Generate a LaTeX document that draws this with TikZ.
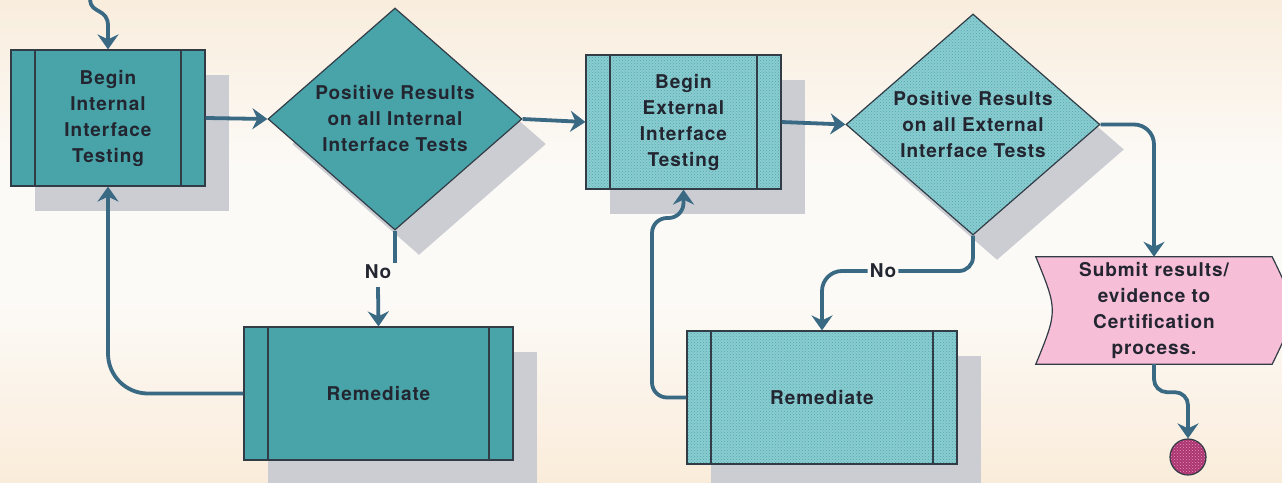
\documentclass[tikz,border=0pt]{standalone}
\usepackage{fontspec}
\setmainfont{TeX Gyre Heros}[LetterSpace=5]
\usetikzlibrary{shapes.geometric,shadows,patterns,arrows.meta}
\definecolor{bgtop}{RGB}{249,237,221}
\definecolor{bgmid}{RGB}{252,250,247}
\definecolor{bgbot}{RGB}{250,236,218}
\definecolor{teal}{RGB}{72,164,169}
\definecolor{tealL}{RGB}{138,205,209}
\definecolor{tealD}{RGB}{82,168,176}
\definecolor{edgec}{RGB}{50,60,70}
\definecolor{arrc}{RGB}{58,105,132}
\definecolor{shadc}{RGB}{203,205,211}
\definecolor{pinkc}{RGB}{247,190,216}
\definecolor{circc}{RGB}{172,52,112}
\definecolor{circdot}{RGB}{228,150,190}
\definecolor{txtc}{RGB}{35,38,48}
\pgfdeclarelayer{back}
\pgfdeclarelayer{bg}
\pgfsetlayers{back,bg,main}
\begin{document}
\begin{tikzpicture}[x=1pt,y=-1pt,
  lbl/.style={font={\fontsize{19}{26}\selectfont\bfseries}, text=txtc, align=center},
  shad/.style={drop shadow={shadow xshift=24pt, shadow yshift=-25pt, fill=shadc, opacity=1}},
  bars/.style={path picture={\draw[line width=1.2pt, draw=edgec]
      ([xshift=#1]path picture bounding box.north west) -- ([xshift=#1]path picture bounding box.south west)
      ([xshift=-#1]path picture bounding box.north east) -- ([xshift=-#1]path picture bounding box.south east);}},
  procbox/.style={rectangle, draw=edgec, line width=1.2pt, inner sep=0pt, shad, bars=24pt, lbl},
  darkfill/.style={fill=teal},
  lightfill/.style={preaction={fill=tealL}, pattern=crosshatch dots, pattern color=tealD},
  decide/.style={diamond, draw=edgec, line width=1.2pt, inner sep=0pt, shad},
  conn/.style={draw=arrc, line width=3.8pt, -{Stealth[length=15pt, width=21pt, inset=5pt]}},
  plain/.style={draw=arrc, line width=3.8pt},
  nolbl/.style={lbl, inner sep=2pt}
]
\begin{pgfonlayer}{back}
\shade[top color=bgtop, bottom color=bgmid] (0,0) rectangle (1282,170);
\fill[bgmid] (0,169) rectangle (1282,300);
\shade[top color=bgmid, bottom color=bgbot] (0,299) rectangle (1282,482);
\end{pgfonlayer}
\useasboundingbox (0,0) rectangle (1282,482);

% nodes
\node[procbox, darkfill, minimum width=194, minimum height=136] (b1) at (108,118)
  {Begin\\Internal\\Interface\\Testing};
\node[decide, fill=teal, minimum width=254, minimum height=222,
  label={[name=d1t, lbl]center:Positive Results\\on all Internal\\Interface Tests}] (d1) at (395,119) {};
\node[procbox, darkfill, minimum width=269, minimum height=133] (r1) at (378.5,393.5) {Remediate};

\node[procbox, lightfill, minimum width=195, minimum height=134] (b3) at (683.5,122)
  {Begin\\External\\Interface\\Testing};
\node[decide, lightfill, minimum width=254, minimum height=221,
  label={[name=d2t, lbl]center:Positive Results\\on all External\\Interface Tests}] (d2) at (973,124.5) {};
\node[procbox, lightfill, minimum width=270, minimum height=133] (r2) at (822,397.5) {Remediate};

\node[lbl, minimum width=236, minimum height=107, inner sep=0pt] (doc) at (1154,310.5)
  {Submit results/\\evidence to\\Certification\\process.};
\begin{pgfonlayer}{bg}
\draw[draw=edgec, line width=1.2pt, fill=pinkc]
  (doc.north west) -- (doc.north east) .. controls ([xshift=26pt]doc.east) .. (doc.south east)
  -- (doc.south west) .. controls ([xshift=22pt]doc.west) .. cycle;
\end{pgfonlayer}

\node[circle, draw=edgec, line width=1.2pt, minimum size=36, inner sep=0pt,
  preaction={fill=circc}, pattern=crosshatch dots, pattern color=circdot] (endc) at (1188,457) {};

\node[nolbl] (no1) at (378,272) {No};
\node[nolbl] (no2) at (883,271) {No};

% connectors
\coordinate (in0) at (90,0);
\coordinate (in1) at (108,26);
\draw[conn] (in0) .. controls (91,14) and (108,8) .. (in1) -- (b1.north);
\draw[conn] (b1.east) -- (d1.west);
\draw[conn] (d1.east) -- (b3.west);
\draw[conn] (b3.east) -- (d2.west);
\draw[plain] (d1.south) -- (d1.south |- no1.north);
\draw[conn] ([yshift=-6pt]no1.south) -- (r1.north);
\draw[conn, rounded corners=40pt] (r1.west) -| (b1.south);
\draw[plain, rounded corners=14pt] (d2.south) |- (no2.east);
\draw[conn, rounded corners=20pt] (no2.west) -| (r2.north);
\coordinate (k2) at (652,218);
\draw[conn, rounded corners=15pt] (r2.west) -| (k2) -| (b3.south);
\draw[conn, rounded corners=20pt] (d2.east) -| (doc.north);
\draw[conn, rounded corners=13pt] (doc.south) -- ++(0,28) -| (endc.north);
\end{tikzpicture}
\end{document}
